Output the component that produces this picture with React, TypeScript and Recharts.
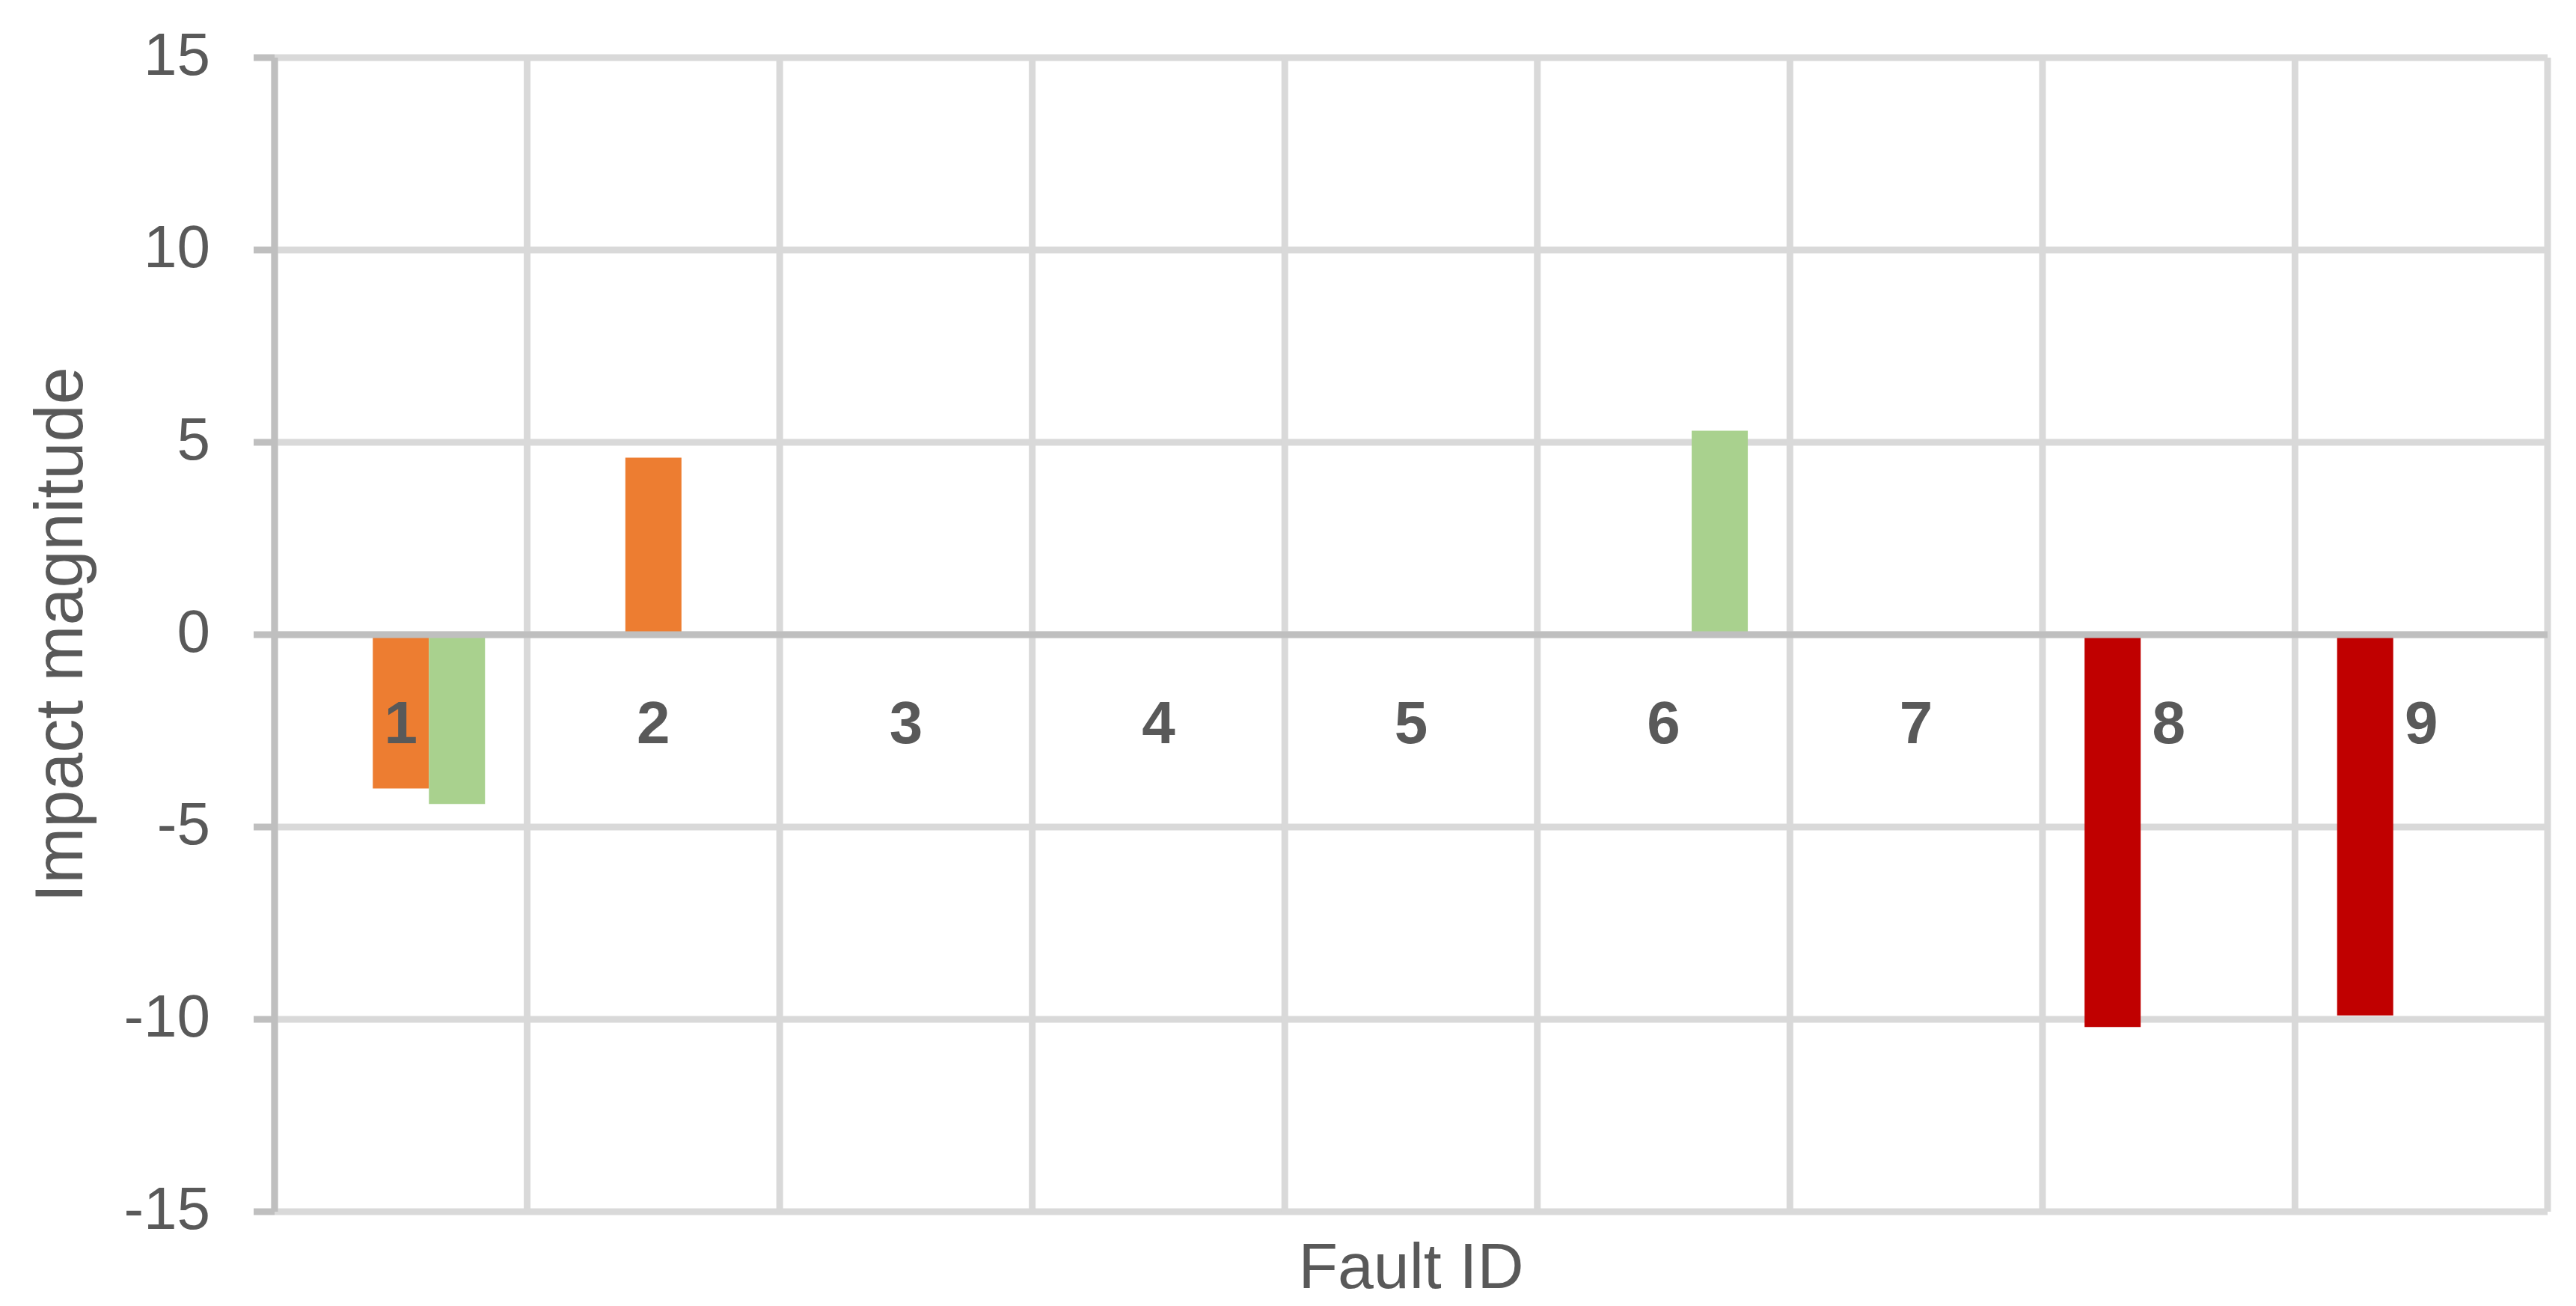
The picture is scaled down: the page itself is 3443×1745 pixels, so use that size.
import { Bar, BarChart, CartesianGrid, ReferenceLine, XAxis, YAxis } from "recharts";

const FAULT_IDS = ["1", "2", "3", "4", "5", "6", "7", "8", "9"];
const RED_VALUES = [null, null, null, null, null, null, null, -10.2, -9.9];
const ORANGE_VALUES = [-4.0, 4.6, null, null, null, null, null, null, null];
const GREEN_VALUES = [-4.4, null, null, null, null, 5.3, null, null, null];
const Y_TICKS = [-15, -10, -5, 0, 5, 10, 15];

const W = 3443;
const H = 1745;
const M_TOP = 77;
const M_RIGHT = 38;
const Y_W = 367;
const X_H = 126;
const FONT = "'Liberation Sans', Arial, sans-serif";
const TEXT = "#595959";
const GRID = "#D9D9D9";
const AXIS = "#BFBFBF";

const data = FAULT_IDS.map((id, i) => ({
  id,
  red: RED_VALUES[i],
  orange: ORANGE_VALUES[i],
  green: GREEN_VALUES[i],
}));

// category labels sit just under the zero line, like Excel's "next to axis"
const plotH = H - M_TOP - X_H;
const zeroY = M_TOP + (plotH * Y_TICKS[Y_TICKS.length - 1]) / (Y_TICKS[Y_TICKS.length - 1] - Y_TICKS[0]);

function CategoryTick(props: any) {
  const { x, payload } = props;
  return (
    <text x={x} y={zeroY + 145} textAnchor="middle" fill={TEXT} fontSize={80} fontWeight="bold" fontFamily={FONT}>
      {payload.value}
    </text>
  );
}

export default function App() {
  return (
    <div style={{ position: "absolute", left: 0, top: 0, background: "#fff" }}>
      <BarChart
        width={W}
        height={H}
        data={data}
        margin={{ top: M_TOP, right: M_RIGHT, bottom: 0, left: 0 }}
        barCategoryGap="16.67%"
        barGap={0}
      >
        <CartesianGrid
          stroke={GRID}
          strokeWidth={9}
          verticalCoordinatesGenerator={({ offset }: any) =>
            Array.from({ length: FAULT_IDS.length + 1 }, (_, i) => offset.left + (offset.width * i) / FAULT_IDS.length)
          }
        />
        <XAxis
          dataKey="id"
          axisLine={false}
          tickLine={false}
          height={X_H}
          tick={<CategoryTick />}
          interval={0}
          label={{ value: "Fault ID", position: "insideBottom", offset: 24, fill: TEXT, fontSize: 86, fontFamily: FONT }}
        />
        <YAxis
          width={Y_W}
          domain={[-15, 15]}
          ticks={Y_TICKS}
          interval={0}
          axisLine={{ stroke: AXIS, strokeWidth: 9 }}
          tickLine={{ stroke: AXIS, strokeWidth: 9 }}
          tickSize={28}
          tickMargin={58}
          tick={{ fill: TEXT, fontSize: 80, fontFamily: FONT, dy: -5 }}
          label={{
            value: "Impact magnitude",
            angle: -90,
            position: "insideLeft",
            offset: 78,
            fill: TEXT,
            fontSize: 90,
            fontFamily: FONT,
            style: { textAnchor: "middle" },
          }}
        />
        <Bar dataKey="red" fill="#C00000" isAnimationActive={false} />
        <Bar dataKey="orange" fill="#ED7D31" isAnimationActive={false} />
        <Bar dataKey="green" fill="#A9D18E" isAnimationActive={false} />
        <ReferenceLine y={0} stroke={AXIS} strokeWidth={9} />
      </BarChart>
    </div>
  );
}
